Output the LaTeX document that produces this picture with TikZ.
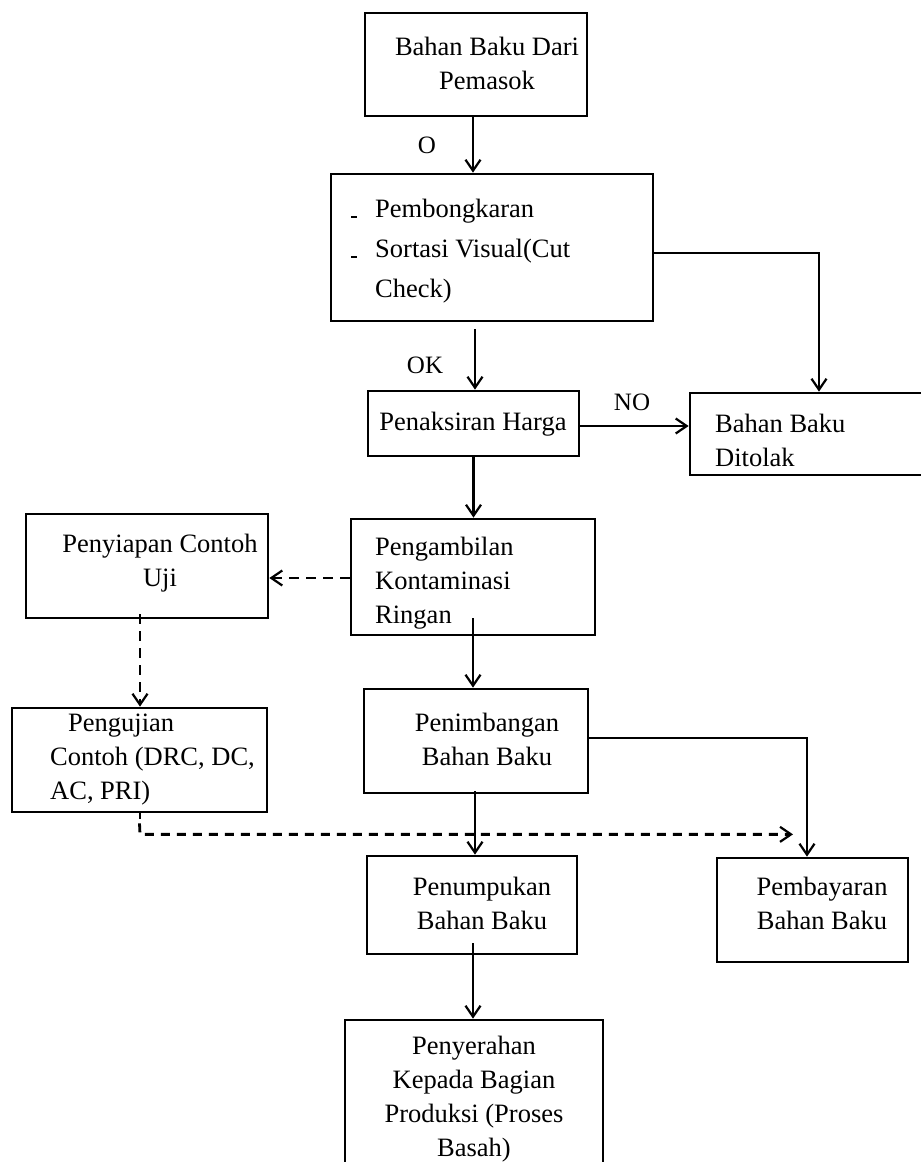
\documentclass[tikz,border=0pt]{standalone}
\usepackage{fontspec}
\setmainfont{Liberation Serif}
\usetikzlibrary{arrows.meta,calc}

\begin{document}
\begin{tikzpicture}[x=1pt,y=-1pt,
  box/.style={draw, line width=2.7pt, inner sep=0pt},
  txt/.style={font=\fontsize{26.5}{34}\selectfont, inner sep=0pt},
  lbl/.style={font=\fontsize{25}{28}\selectfont, inner sep=0pt},
  arr/.style={line width=2.2pt, -{Straight Barb[length=11pt,width=15pt,line width=2.2pt]}},
  dsh/.style={arr, dash pattern=on 10pt off 7pt},
  tickmark/.style={line width=2.8pt}]
\useasboundingbox (0,0) rectangle (921,1162);

% process boxes
\node[box, minimum width=222pt, minimum height=103pt] (b1)  at (476,64.5)  {};
\node[box, minimum width=322pt, minimum height=147pt] (b2)  at (492,247.5) {};
\node[box, minimum width=211pt, minimum height=65pt]  (b3)  at (473.5,423.5) {};
\node[box, minimum width=236pt, minimum height=82pt]  (b4)  at (808,434)   {};
\node[box, minimum width=244pt, minimum height=116pt] (b5)  at (473,577)   {};
\node[box, minimum width=242pt, minimum height=104pt] (b6)  at (147,566)   {};
\node[box, minimum width=255pt, minimum height=104pt] (b7)  at (139.5,760) {};
\node[box, minimum width=224pt, minimum height=104pt] (b8)  at (476,741)   {};
\node[box, minimum width=210pt, minimum height=98pt]  (b9)  at (472,905)   {};
\node[box, minimum width=191pt, minimum height=104pt] (b10) at (812.5,910) {};
\node[box, minimum width=258pt, minimum height=160pt] (b11) at (474,1100)  {};

% texts
\node[txt, align=center] (t1) at (487,63) {Bahan Baku Dari\\Pemasok};
\node[txt, align=left, anchor=west, font=\fontsize{26.5}{40}\selectfont] (t2) at (351,251)
  {\makebox[24pt][l]{\rule[-1pt]{6pt}{2.5pt}}Pembongkaran\\
   \makebox[24pt][l]{\rule[-1pt]{6pt}{2.5pt}}Sortasi Visual(Cut\\
   \hspace*{24pt}Check)};
\node[txt] (t3) at (473,424) {Penaksiran Harga};
\node[txt, align=left, anchor=west] (t4) at (715,440) {Bahan Baku\\Ditolak};
\node[txt, align=left, anchor=west] (t5) at (375,583) {Pengambilan\\Kontaminasi\\Ringan};
\node[txt, align=center] (t6) at (160,563) {Penyiapan Contoh\\Uji};
\node[txt, align=left, anchor=west] (t7) at (50,760)
  {\hspace*{18pt}Pengujian\\Contoh (DRC, DC,\\AC, PRI)};
\node[txt, align=center] (t8) at (487,739) {Penimbangan\\Bahan Baku};
\node[txt, align=center] (t9) at (482,903) {Penumpukan\\Bahan Baku};
\node[txt, align=center] (t10) at (822,903) {Pembayaran\\Bahan Baku};
\node[txt, align=center] (t11) at (474,1099)
  {Penyerahan\\Kepada Bagian\\Produksi (Proses\\Basah)};

% branch labels
\node[lbl] (lo)  at (427,145) {O};
\node[lbl] (lok) at (425,365) {OK};
\node[lbl] (lno) at (632,402) {NO};

% main flow
\draw[arr] ([xshift=-3pt]b1.south) -- ([xshift=-3pt]b1.south |- b2.north);
\draw[arr] ([xshift=-17pt,yshift=-7pt]b2.south) -- ([xshift=-17pt]b2.south |- b3.north);
\draw[arr] (b3.south) -- (b3.south |- b5.north);
\draw[arr] ([yshift=18pt]b5.south) -- (b5.south |- b8.north);
\draw[arr] ([xshift=-1pt,yshift=3pt]b8.south) -- ([xshift=-1pt]b8.south |- b9.north);
\draw[arr] ([xshift=1pt,yshift=12pt]b9.south) -- ([xshift=1pt]b9.south |- b11.north);

% rejection paths
\draw[arr] ([yshift=-5.5pt]b2.east) -| ([xshift=11pt]b4.north);
\draw[arr] ([yshift=-2.5pt]b3.east) -- ([yshift=-2.5pt]b3.east -| b4.west);

% payment path
\draw[arr, line width=1.7pt] ([yshift=3pt]b8.east) -| ([xshift=-5.5pt]b10.north);

% sample testing paths (dashed)
\draw[dsh] ([yshift=-1pt]b5.west) -- ([yshift=-1pt]b5.west -| b6.east);
\draw[dsh] ([xshift=-7pt,yshift=5pt]b6.south) -- ([xshift=-7pt]b6.south |- b7.north);
\draw[tickmark] ([xshift=0.5pt]b7.south) -- ([xshift=0.5pt,yshift=-6pt]b7.south);
\coordinate (c1) at ([xshift=0.5pt,yshift=-21pt]b7.south);
\draw[dsh, line width=2.8pt, dash pattern=on 9pt off 7pt] ([yshift=-10pt]b7.south) -- (c1) -- ($(c1)+(653,0)$);
\end{tikzpicture}
\end{document}
